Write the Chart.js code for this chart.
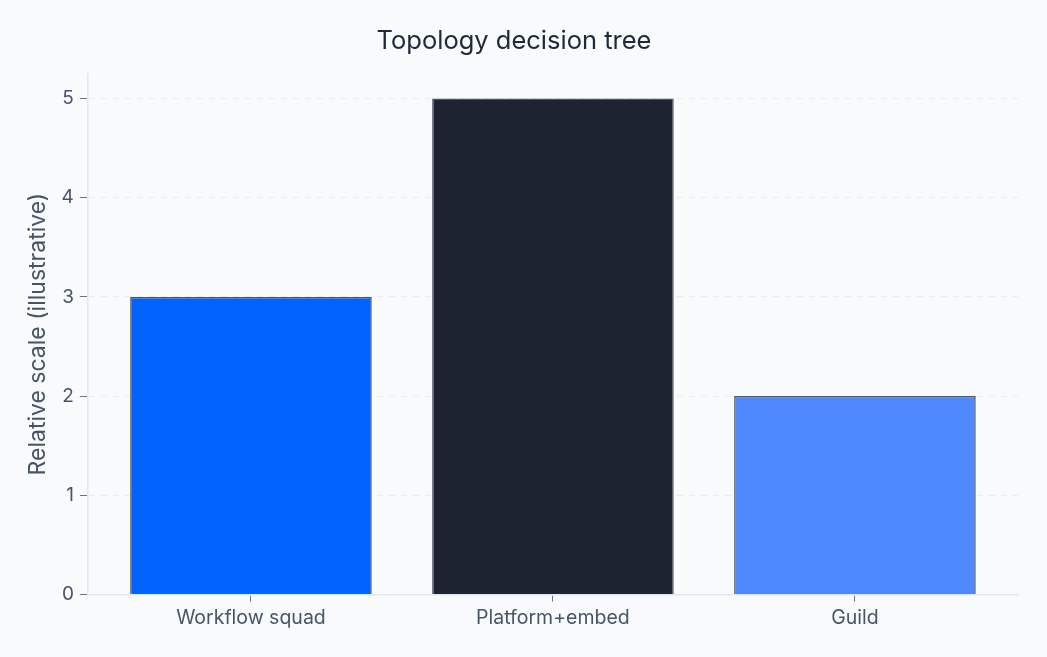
<!DOCTYPE html>
<html>
<head>
<meta charset="utf-8">
<script src="https://cdn.jsdelivr.net/npm/chart.js@4"></script>
<style>
  html, body { margin: 0; padding: 0; background: #f8fafc; }
  #wrap { width: 1047px; height: 657px; }
</style>
</head>
<body>
<div id="wrap"><canvas id="chart"></canvas></div>
<script>
// data
var categories = ['Workflow squad', 'Platform+embed', 'Guild'];
var values = [3, 5, 2];
var barColors = ['#0062ff', '#1c2432', '#4d88ff'];
var yTicks = [0, 1, 2, 3, 4, 5];

Chart.defaults.font.family = 'Inter, "Helvetica Neue", Arial, sans-serif';

// bars sit on a numeric x axis so the outer margins can be wider than half a slot
var points = values.map(function (v, i) { return { x: i, y: v }; });

var ctx = document.getElementById('chart').getContext('2d');
var myChart = new Chart(ctx, {
  type: 'bar',
  data: {
    datasets: [{
      data: points,
      backgroundColor: barColors,
      borderColor: '#4b5565',
      borderWidth: 1.5,
      barPercentage: 0.8,
      categoryPercentage: 1
    }]
  },
  options: {
    responsive: true,
    maintainAspectRatio: false,
    animation: false,
    layout: { padding: { left: 10, right: 29, top: 14, bottom: 22 } },
    plugins: {
      legend: { display: false },
      tooltip: { enabled: false },
      title: {
        display: true,
        text: 'Topology decision tree',
        color: '#1e293b',
        font: { size: 25.5, weight: 'normal' },
        padding: { top: 12, bottom: 17 }
      }
    },
    scales: {
      x: {
        type: 'linear',
        offset: false,
        min: -0.54,
        max: 2.54,
        afterBuildTicks: function (axis) {
          axis.ticks = categories.map(function (c, i) { return { value: i }; });
        },
        grid: { offset: false, drawOnChartArea: false, drawTicks: true, tickLength: 7, tickColor: '#64748b' },
        border: { color: '#e2e8f0', width: 1.5 },
        ticks: {
          color: '#475569',
          font: { size: 19.5 },
          padding: 5,
          maxRotation: 0,
          callback: function (v) { return categories[v]; }
        }
      },
      y: {
        min: 0,
        max: 5.25,
        afterBuildTicks: function (axis) {
          axis.ticks = yTicks.map(function (v) { return { value: v }; });
        },
        grid: {
          color: '#e8edf3',
          tickColor: '#64748b',
          tickLength: 8,
          lineWidth: 1
        },
        border: { color: '#e2e8f0', width: 1.5, dash: [6, 6] },
        ticks: { color: '#475569', font: { size: 19 }, padding: 6 },
        title: {
          display: true,
          text: 'Relative scale (illustrative)',
          color: '#475569',
          font: { size: 23 },
          padding: { top: 14, bottom: 4 }
        }
      }
    }
  }
});
</script>
</body>
</html>
